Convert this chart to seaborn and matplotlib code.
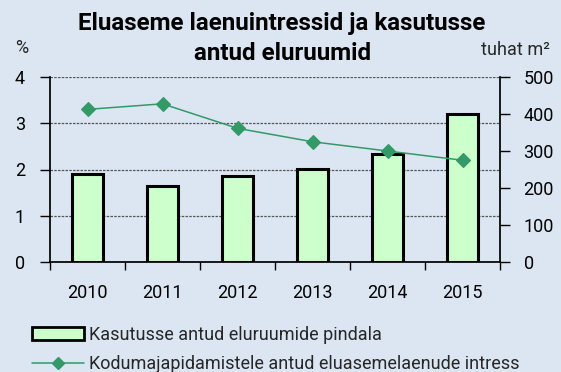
import matplotlib
matplotlib.use("Agg")
import matplotlib.pyplot as plt
from matplotlib.patches import Patch
from matplotlib.lines import Line2D
import seaborn as sns
import pandas as pd

# Data
years = ["2010", "2011", "2012", "2013", "2014", "2015"]
floor_area = [237, 206, 233, 251, 292, 399]        # tuhat m2 (right axis)
interest_rate = [3.30, 3.42, 2.89, 2.60, 2.40, 2.20]  # % (left axis)
pct_ticks = [0, 1, 2, 3, 4]
area_ticks = [0, 100, 200, 300, 400, 500]

title = "Eluaseme laenuintressid ja kasutusse\nantud eluruumid"
bar_label = "Kasutusse antud eluruumide pindala"
line_label = "Kodumajapidamistele antud eluasemelaenude intress"

BG = "#dce6f2"
BAR = "#ccffcc"
LINE = "#339966"

sns.set_theme(style="white")
plt.rcParams["font.family"] = ["Roboto", "DejaVu Sans"]

df = pd.DataFrame({"year": years, "area": floor_area, "rate": interest_rate})

fig = plt.figure(figsize=(5.61, 3.72), dpi=100, facecolor=BG)
ax_pct = fig.add_axes([50 / 561, 110 / 372, 450 / 561, 185 / 372])
ax_area = ax_pct.twinx()
ax_line = ax_pct.twinx()

# Layering: grid (percent axis) below bars, line on top
ax_pct.set_facecolor(BG)
ax_pct.set_zorder(0)
ax_area.set_zorder(1)
ax_line.set_zorder(2)
ax_area.patch.set_visible(False)
ax_line.patch.set_visible(False)

# Bars: floor area (right axis)
sns.barplot(data=df, x="year", y="area", ax=ax_area, color=BAR,
            saturation=1, width=0.41, edgecolor="black", linewidth=2.2)

# Line: interest rate (left axis)
sns.pointplot(data=df, x="year", y="rate", ax=ax_line, color=LINE,
              markers="D", markersize=7, linewidth=1.1)

for a in (ax_pct, ax_area, ax_line):
    a.set_xlim(-0.5, len(years) - 0.5)
    a.set_xlabel("")
    a.set_ylabel("")
    for s in a.spines.values():
        s.set_visible(False)

ax_pct.set_ylim(0, 4)
ax_line.set_ylim(0, 4)
ax_area.set_ylim(0, 500)

ax_pct.set_yticks(pct_ticks)
ax_pct.yaxis.grid(True, linestyle=(0, (2, 1)), color="#555555", linewidth=0.9)
ax_pct.xaxis.grid(False)
ax_pct.tick_params(axis="y", left=True, length=7, width=1, color="black",
                   direction="out", labelsize=13, pad=11, labelcolor="black")
ax_pct.spines["left"].set_visible(True)
ax_pct.spines["left"].set_color("black")
ax_pct.spines["bottom"].set_visible(True)
ax_pct.spines["bottom"].set_color("black")

# Year labels centred under the bars, tick marks between categories
ax_pct.set_xticks(range(len(years)))
ax_pct.set_xticklabels(years)
ax_pct.set_xticks([i - 0.5 for i in range(len(years) + 1)], minor=True)
ax_pct.tick_params(axis="x", which="major", bottom=True, length=0,
                   labelbottom=True, labelsize=13, pad=16, labelcolor="black")
ax_pct.tick_params(axis="x", which="minor", bottom=True, length=6, width=1,
                   color="black", direction="out")

ax_area.set_yticks(area_ticks)
ax_area.yaxis.grid(False)
ax_area.xaxis.grid(False)
ax_area.tick_params(axis="y", right=True, length=7, width=1, color="black",
                    direction="out", labelsize=13, pad=10, labelcolor="black")
ax_area.spines["right"].set_visible(True)
ax_area.spines["right"].set_color("black")
ax_area.tick_params(axis="x", which="both", length=0, labelbottom=False)

ax_line.set_yticks([])
ax_line.grid(False)
ax_line.tick_params(axis="x", which="both", length=0, labelbottom=False)
ax_line.tick_params(axis="y", which="both", length=0, labelright=False)

fig.text(0.503, 1 - 12 / 372, title, ha="center", va="top", fontsize=17.4,
         fontweight="bold", color="black", linespacing=1.38)
fig.text(22 / 561, 1 - 48 / 372, "%", ha="center", va="center", fontsize=13)
fig.text(550 / 561, 1 - 50 / 372, "tuhat m²", ha="right", va="center",
         fontsize=13)

handles = [
    Patch(facecolor=BAR, edgecolor="black", linewidth=2),
    Line2D([0], [0], color=LINE, marker="D", markersize=6, linewidth=1.1),
]
fig.legend(handles, [bar_label, line_label], loc="upper left",
           bbox_to_anchor=(32 / 561, 1 - 326 / 372), frameon=False,
           fontsize=13, handlelength=2.9, handletextpad=0.25,
           labelspacing=0.6, borderaxespad=0, borderpad=0)

fig.savefig("out.png", dpi=100, facecolor=BG)
